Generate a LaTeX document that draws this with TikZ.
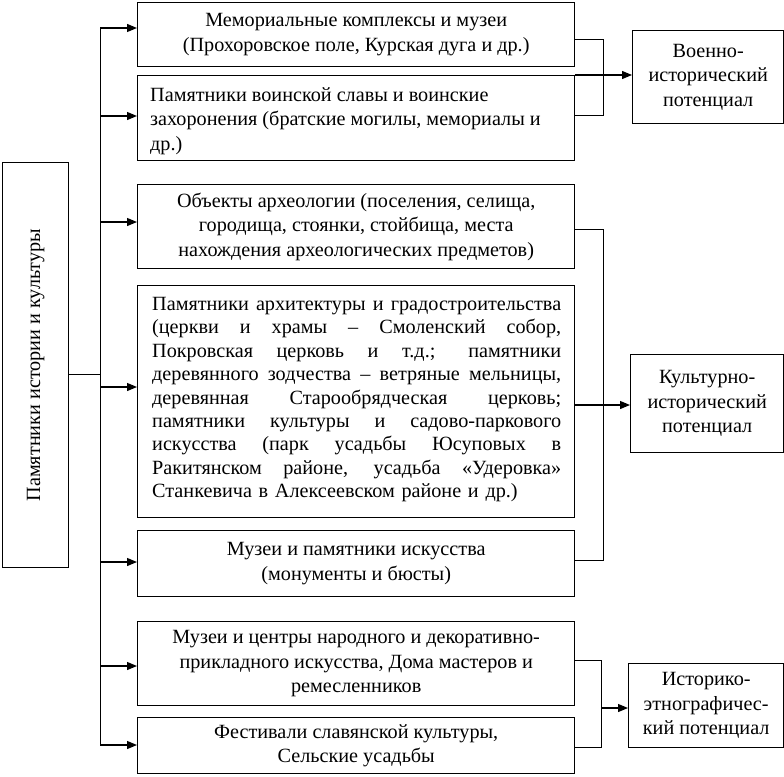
\documentclass[tikz,border=0pt]{standalone}
\usepackage{fontspec}
\setmainfont{Liberation Serif}
\usetikzlibrary{arrows.meta}
\newcommand\jline[1]{\hbox to 409pt{\spaceskip=0.25em plus 1fil\relax #1}}
\tikzset{
  txt/.style={font=\fontsize{20.2}{24.5}\selectfont},
  box/.style={draw, line width=1.4pt, inner sep=0pt, anchor=north west, txt},
  conn/.style={line width=1pt},
  arr/.style={line width=1.2pt, -{Triangle[length=10pt,width=8pt]}},
}
\begin{document}
\begin{tikzpicture}[x=1pt,y=-1pt]
\useasboundingbox (0,0) rectangle (784,776);
% left box
\node[box, minimum width=66, minimum height=405] (L) at (2,162) {};
\node[rotate=90, txt] (Lt) at (L.center) {Памятники истории и культуры};
% middle boxes
\node[box, minimum width=437, minimum height=64, align=center] (b1) at (137,2) {Мемориальные комплексы и музеи\\(Прохоровское поле, Курская дуга и др.)};
\node[box, minimum width=437, minimum height=85] (b2) at (137,75) {};
\node[anchor=north west, align=left, inner sep=0pt, txt] (b2t) at (150,87) {Памятники воинской славы и воинские\\захоронения (братские могилы, мемориалы и\\др.)};
\node[box, minimum width=437, minimum height=84, align=center] (b3) at (137,184) {Объекты археологии (поселения, селища,\\городища, стоянки, стойбища, места\\нахождения археологических предметов)};
\node[box, minimum width=437, minimum height=232] (b4) at (137,285) {};
\node[anchor=north west, inner sep=0pt, font=\fontsize{20.2}{23.4}\selectfont, text width=409] (b4t) at (152,297) {%
\jline{Памятники архитектуры и градостроительства}
\jline{(церкви и храмы – Смоленский собор,}
\jline{Покровская церковь и т.д.; памятники}
\jline{деревянного зодчества – ветряные мельницы,}
\jline{деревянная Старообрядческая церковь;}
\jline{памятники культуры и садово-паркового}
\jline{искусства (парк усадьбы Юсуповых в}
\jline{Ракитянском районе, усадьба «Удеровка»}
\hbox{Станкевича в Алексеевском районе и др.)}};
\node[box, minimum width=437, minimum height=66, align=center] (b5) at (137,530) {Музеи и памятники искусства\\(монументы и бюсты)};
\node[box, minimum width=437, minimum height=84, align=center] (b6) at (137,621) {Музеи и центры народного и декоративно-\\прикладного искусства, Дома мастеров и\\ремесленников};
\node[box, minimum width=437, minimum height=56, align=center] (b7) at (137,717) {Фестивали славянской культуры,\\Сельские усадьбы};
% right boxes
\node[box, minimum width=151, minimum height=93, align=center] (r1) at (632,30) {Военно-\\исторический\\потенциал};
\node[box, minimum width=153, minimum height=98, align=center] (r2) at (630,354) {Культурно-\\исторический\\потенциал};
\node[box, minimum width=155, minimum height=84, align=center] (r3) at (628,663) {Историко-\\этнографичес-\\кий потенциал};
% trunk
\coordinate (t0) at (100,28);
\coordinate (t1) at (100,745);
\draw[conn] (t0) -- (t1);
\draw[conn] (L.east |- 0,374) -- (100,374);
\draw[arr] (t0) -- (b1.west |- t0);
\draw[arr] (100,116) -- (b2.west |- 0,116);
\draw[arr] (100,222) -- (b3.west |- 0,222);
\draw[arr] (100,387) -- (b4.west |- 0,387);
\draw[arr] (100,562) -- (b5.west |- 0,562);
\draw[arr] (100,666) -- (b6.west |- 0,666);
\draw[arr] (t1) -- (b7.west |- t1);
% right brackets
\draw[conn] (b1.east |- 0,40) -- (603,40) -- (603,115) -- (b2.east |- 0,115);
\draw[arr] (b2.east |- 0,75) -- (r1.west |- 0,75);
\draw[conn] (b3.east |- 0,229) -- (603,229) -- (603,560) -- (b5.east |- 0,560);
\draw[arr] (b4.east |- 0,405) -- (r2.west |- 0,405);
\draw[conn] (b6.east |- 0,660) -- (601,660) -- (601,747) -- (b7.east |- 0,747);
\draw[arr] (601,708) -- (r3.west |- 0,708);
\end{tikzpicture}
\end{document}
